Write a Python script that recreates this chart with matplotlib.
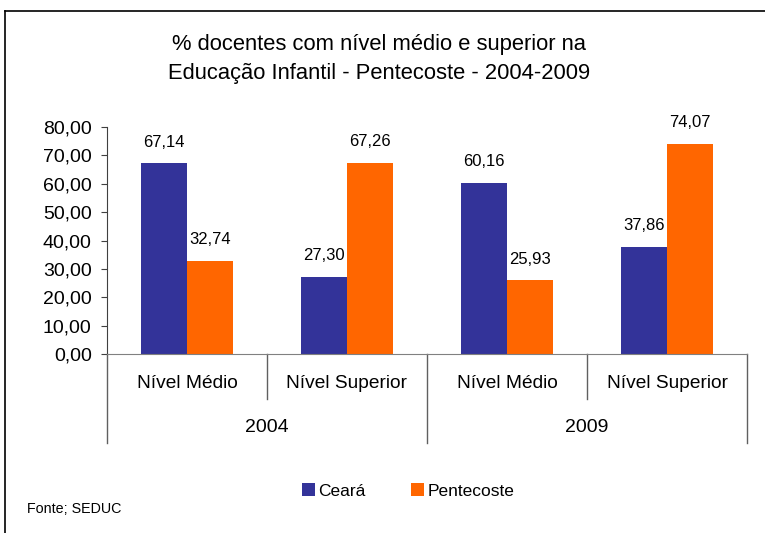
import matplotlib.pyplot as plt
import numpy as np
from matplotlib.lines import Line2D

plt.rcParams['font.family'] = ['Liberation Sans', 'DejaVu Sans']

categorias = ['Nível Médio', 'Nível Superior', 'Nível Médio', 'Nível Superior']
anos = ['2004', '2009']
ceara = [67.14, 27.30, 60.16, 37.86]
pentecoste = [32.74, 67.26, 25.93, 74.07]
series = ['Ceará', 'Pentecoste']
cores = ['#333399', '#FF6600']

W, H = 765, 533
fig = plt.figure(figsize=(W / 100, H / 100), dpi=100)

# moldura (so topo e esquerda visiveis)
fig.add_artist(Line2D([5 / W, 5 / W], [0, 1 - 10.5 / H], color='black', lw=1.2))
fig.add_artist(Line2D([5 / W, 1], [1 - 10.5 / H, 1 - 10.5 / H], color='black', lw=1.2))

ax = fig.add_axes([107 / W, 1 - 354 / H, 640 / W, 227 / H])
x = np.arange(len(categorias))
w = 0.29
b1 = ax.bar(x - w / 2, ceara, w, color=cores[0], label=series[0])
b2 = ax.bar(x + w / 2, pentecoste, w, color=cores[1], label=series[1])

fmt = lambda v: f'{v:.2f}'.replace('.', ',')
for bars, vals in ((b1, ceara), (b2, pentecoste)):
    for r, v in zip(bars, vals):
        ax.annotate(fmt(v), (r.get_x() + r.get_width() / 2, v), xytext=(0, 10),
                    textcoords='offset points', ha='center', va='bottom', fontsize=12)

ax.set_xlim(-0.5, len(categorias) - 0.5)
ax.set_ylim(0, 80)
ax.set_yticks(np.arange(0, 81, 10))
ax.set_yticklabels([fmt(v) for v in np.arange(0, 81, 10)], fontsize=14)
ax.tick_params(axis='y', length=4, color='#404040', pad=7)
ax.set_xticks([])
for s in ('top', 'right'):
    ax.spines[s].set_visible(False)
ax.spines['left'].set_color('#404040')
ax.spines['bottom'].set_color('#808080')

tr = ax.get_xaxis_transform()
curto, longo = -45 / 227, -89 / 227
for i, c in enumerate(categorias):
    ax.text(i, -29 / 227, c, transform=tr, ha='center', va='center', fontsize=13.8)
for k in range(len(categorias) + 1):
    xs = k - 0.5
    y1 = longo if k % 2 == 0 else curto
    ax.plot([xs, xs], [0, y1], transform=tr, color='#606060', lw=1, clip_on=False)
for j, a in enumerate(anos):
    ax.text(2 * j + 0.5, -74 / 227, a, transform=tr, ha='center', va='center', fontsize=14)

fig.text(379 / W, 1 - 45 / H, '% docentes com nível médio e superior na', ha='center', va='center', fontsize=15.8)
fig.text(379 / W, 1 - 73 / H, 'Educação Infantil - Pentecoste - 2004-2009', ha='center', va='center', fontsize=15.8)

fig.legend(handles=[b1, b2], loc='center', bbox_to_anchor=(408 / W, 1 - 491 / H), ncol=2,
           frameon=False, fontsize=12.5, handlelength=0.75, handleheight=0.75,
           handletextpad=0.2, columnspacing=2.6)

fig.text(27 / W, 1 - 509 / H, 'Fonte; SEDUC', ha='left', va='center', fontsize=10.3)

fig.savefig('out.png', dpi=100)
